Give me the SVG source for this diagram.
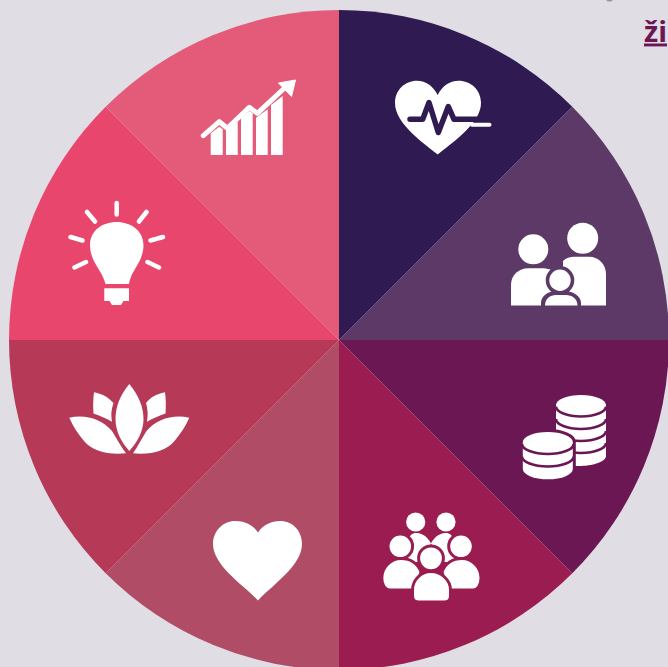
<svg xmlns="http://www.w3.org/2000/svg" width="668" height="667" viewBox="0 0 668 667">
<style>
.w{fill:#fff}
.ws{fill:none;stroke:#fff;stroke-linecap:round;stroke-linejoin:round}
.c{fill:none;stroke:#6a1754;stroke-width:2.600}
.p{fill:#fff;stroke:#9b1c50;stroke-width:3}
.link{font-family:"Open Sans","Liberation Sans",sans-serif;font-weight:700;font-size:29px;fill:#6a1754;text-decoration:underline}
</style>
<rect width="668" height="667" fill="#e0dde5"/>
<ellipse cx="609.500" cy="0" rx="3" ry="1.500" fill="#9a98a0"/>
<text class="link" x="644" y="41.500">ži</text>
<g id="wheel">
<path fill="#2f1a52" d="M339 340V10A330 330 0 0 1 572.300 106.700Z"/>
<path fill="#5c3966" d="M339 340L572.300 106.700A330 330 0 0 1 669 340Z"/>
<path fill="#6a1754" d="M339 340H669A330 330 0 0 1 572.300 573.300Z"/>
<path fill="#9b1c50" d="M339 340L572.300 573.300A330 330 0 0 1 339 670Z"/>
<path fill="#b04c66" d="M339 340V670A330 330 0 0 1 105.700 573.300Z"/>
<path fill="#b63a58" d="M339 340L105.700 573.300A330 330 0 0 1 9 340Z"/>
<path fill="#e8466c" d="M339 340H9A330 330 0 0 1 105.700 106.700Z"/>
<path fill="#e35b79" d="M339 340L105.700 106.700A330 330 0 0 1 339 10Z"/>
</g>
<g id="icon-health">
<path class="w" d="M437.700 154.500C425 144 395 124 395 103C395 90 405 80.700 417 80.700C426 80.700 433 86 437.700 95C442.300 86 449.500 80.700 458.500 80.700C471 80.700 481 90 481 103C481 124 450 144 437.700 154.500Z"/>
<path fill="none" stroke="#2f1a52" stroke-width="5.500" stroke-linecap="round" stroke-linejoin="round" d="M410 119.300H422.700L429 102.500L438.300 132.500L448.300 106.500L454 119.300H481.500"/>
<path class="ws" stroke-width="4" d="M472 124.800H489.500"/>
</g>
<g id="icon-family">
<circle class="w" cx="582.700" cy="238.300" r="15.500"/>
<circle class="w" cx="533.300" cy="249.300" r="15"/>
<path class="w" d="M563 261C566 258 570 256.700 574 256.700H589C599 256.700 606 265 606 274V305.500H563Z"/>
<path class="w" d="M511 305.500V285C511 275 519 268.300 528 268.300H541C548 268.300 552 270 555 272V305.500Z"/>
<path fill="#5c3966" d="M560 266A14.300 14.300 0 1 1 560 294.600A14.300 14.300 0 1 1 560 266ZM541 306V303C541 296 548 291 556 291H565C573 291 581 296 581 303V306Z"/>
<circle class="w" cx="560" cy="280.300" r="10.700"/>
<path class="w" d="M545 305.500C545 299 550 295 556 295H566C572 295 577.500 299 577.500 305.500Z"/>
</g>
<g id="icon-coins">
<g id="coins-back">
<path class="w" d="M556 405A25 10 0 0 1 606 405V456C606 461 595 465.500 581 466H556Z"/>
<path class="c" d="M556 406.500A25 10 0 0 0 606 406.500M556 419A25 10 0 0 0 606 419M556 431A25 10 0 0 0 606 431M556 443A25 10 0 0 0 606 443"/>
</g>
<g id="coins-front">
<path class="w" stroke="#6a1754" stroke-width="3" d="M521.300 442A26.500 11.500 0 0 1 574.300 442V469C574.300 476 562 480.800 548 480.800C534 480.800 521.300 476 521.300 469Z"/>
<path class="c" d="M522 444A25.800 10 0 0 0 573.600 444M522 456.500A25.800 10 0 0 0 573.600 456.500"/>
</g>
</g>
<g id="icon-people">
<path class="w" d="M404 562C404 543 409 533 416 533C425 533 432 541 434 552V562ZM458 562C458 543 453 533 446 533C437 533 430 541 428 552V562Z"/>
<circle class="w" cx="415.700" cy="522" r="9.600"/>
<circle class="w" cx="446" cy="522" r="9.600"/>
<circle class="p" cx="400.300" cy="546.300" r="12.300"/>
<circle class="p" cx="461" cy="546.300" r="12.300"/>
<path class="p" d="M381.800 578C381.800 567 391 558.500 401 558.500C411 558.500 418 564 421 572L416 590H390C385 590 381.800 585 381.800 578Z"/>
<path class="p" d="M481 578C481 567 472 558.500 462 558.500C452 558.500 445 564 442 572L447 590H473C478 590 481 585 481 578Z"/>
<circle class="p" cx="431" cy="558.300" r="12.400"/>
<path class="p" d="M412.500 590C412.500 580 421 571.500 431 571.500C441 571.500 450.500 580 450.500 590V596C450.500 600 448 602 444 602H419C415 602 412.500 600 412.500 596Z"/>
</g>
<g id="icon-heart">
<path class="w" d="M258 600.500C245 586 213 566 213 544C213 531 223 521 235 521C245 521 253 525 258 532.500C263 525 271 521 280 521C293 521 302 531 302 544C302 566 271 586 258 600.500Z"/>
</g>
<g id="icon-lotus">
<path class="w" d="M129.300 384C120 395 115.500 407 115.500 419C115.500 432 122 443 129.300 451C136.500 443 143.500 432 143.500 419C143.500 407 138.500 395 129.300 384Z"/>
<path class="w" d="M69.300 417.700C85 414 102 419 112 431C117 439 121 447 126 453.300C108 455 92 451 84 441C78 434 73 426 69.300 417.700Z"/>
<path class="w" d="M189.300 417.700C173.500 414 156.500 419 146.500 431C141.500 439 137.500 447 133 453.300C150.500 455 166.500 451 174.500 441C180.500 434 185.500 426 189.300 417.700Z"/>
<path class="w" d="M94 392.300C103 394 109 398 113.500 403C111 411 111 414 112 421.700C106 418 100 416 93.500 413.500C93 406 93 400 94 392.300Z"/>
<path class="w" d="M165 392.300C156 394 150 398 146 403C148 411 148 414 147 421.700C153 418 159 416 165.500 413.500C166 406 166 400 165 392.300Z"/>
</g>
<g id="icon-idea">
<path class="w" d="M105.500 284C103 274 97 268 93 259C91 254 90 250 90 245C90 231 102 222 116.700 222C131 222 143.500 231 143.500 245C143.500 250 142.500 254 140.500 259C136.500 268 130.500 274 129 284Z"/>
<path class="w" d="M104.300 288.300H129V301H123.500L121 305H112L109.500 301H104.300Z"/>
<path class="ws" stroke-width="4.500" d="M116.700 203V214.500M87 212L95 221.500M146.500 212L139 221.500M70.500 237L82.500 240.500M163 237L150.500 240.500M74.500 267.500L86 262M159 267.500L147.500 262"/>
</g>
<g id="icon-growth">
<path class="w" d="M210.700 133.300L219.300 126.700L222.700 129.300V155H210.700ZM226 131L237.700 121.700V155H226ZM241 117.700L249.300 110.700L252.700 113.300V155H241ZM256 117.700L267.700 109.300V155H256ZM271 105L282.700 96V155H271Z"/>
<path class="ws" stroke-width="5" d="M203.300 135.700L219.300 121.700L227.300 128.300L249.300 107.300L257.300 113.300L284 88.500"/>
<path class="w" d="M278.500 83L295.500 80L291.500 96.500Z" stroke="#fff" stroke-linejoin="round"/>
</g>
</svg>
